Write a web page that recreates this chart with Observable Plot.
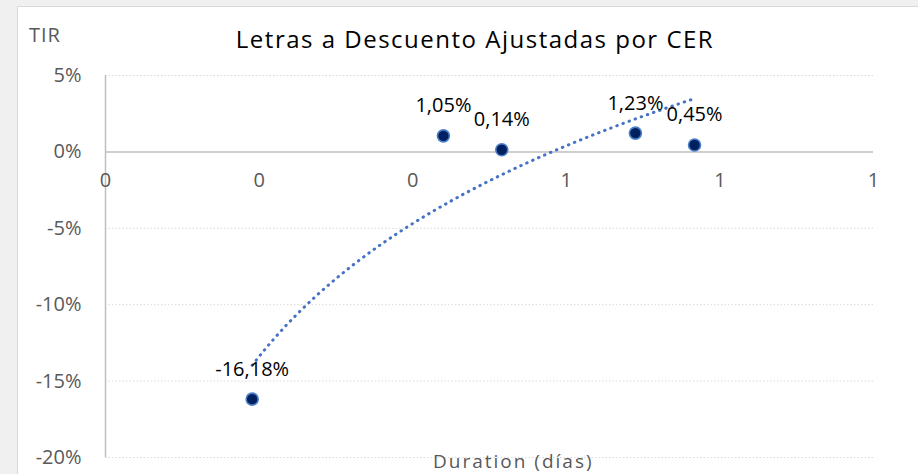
<!DOCTYPE html>
<html>
<head>
<meta charset="utf-8">
<script src="https://cdn.jsdelivr.net/npm/d3@7"></script>
<script src="https://cdn.jsdelivr.net/npm/@observablehq/plot@0.6"></script>
<style>
  html, body { margin: 0; padding: 0; }
  body { width: 918px; height: 474px; overflow: hidden; background: #f0f0f0; font-family: "Open Sans", sans-serif; }
  #wrap { position: relative; width: 918px; height: 474px; }
  #box { position: absolute; left: 17px; top: 6px; width: 910px; height: 480px; background: #fff; border: 1px solid #d9d9d9; box-sizing: border-box; }
  #chart { position: absolute; left: 0; top: 0; }
  .t { position: absolute; white-space: nowrap; line-height: 1; }
  #title { left: 475px; top: 27px; transform: translateX(-50%); font-size: 24px; letter-spacing: 1.5px; color: #000; }
  #ylab { left: 29px; top: 25px; font-size: 20px; letter-spacing: 1px; color: #595959; }
  #xlab { left: 433px; top: 452px; font-size: 19px; color: #595959; letter-spacing: 2px; }
</style>
</head>
<body>
<div id="wrap">
  <div id="box"></div>
  <div id="chart"></div>
  <div class="t" id="title">Letras a Descuento Ajustadas por CER</div>
  <div class="t" id="ylab">TIR</div>
  <div class="t" id="xlab">Duration (días)</div>
</div>
<script>
// Data
const duration = [0.191, 0.440, 0.516, 0.690, 0.767];   // x (axis shown rounded to 0 decimals)
const tir = [-16.18, 1.05, 0.14, 1.23, 0.45];             // % values
const xTicks = [0, 0.2, 0.4, 0.6, 0.8, 1.0];
const yTicks = [-20, -15, -10, -5, 0, 5];

const points = duration.map((d, i) => ({x: d, y: tir[i]}));

// Excel-style logarithmic trendline fitted to the points: y = a + b ln(x)
const lx = duration.map(Math.log);
const mx = d3.mean(lx), my = d3.mean(tir);
const b = d3.sum(lx, (v, i) => (v - mx) * (tir[i] - my)) / d3.sum(lx, v => (v - mx) ** 2);
const a = my - b * mx;
const xmin = d3.min(duration), xmax = d3.max(duration);
const trend = d3.range(0, 81).map(i => {
  const x = xmin + (xmax - xmin) * i / 80;
  return {x, y: a + b * Math.log(x)};
});

const fmtPct = v => v.toFixed(2).replace(".", ",") + "%";

const chart = Plot.plot({
  width: 918,
  height: 474,
  marginLeft: 105,
  marginRight: 45,
  marginTop: 75,
  marginBottom: 17,
  x: {domain: [0, 1], axis: null},
  y: {domain: [-20, 5], axis: null},
  style: {background: "transparent", fontFamily: "'Open Sans', sans-serif"},
  marks: [
    Plot.ruleY(yTicks.filter(v => v !== 0), {y: d => d, x1: 0, x2: 1, stroke: "#d9d9d9", strokeWidth: 1, strokeDasharray: "1.5,2"}),
    Plot.ruleY([0], {x1: 0, x2: 1, stroke: "#bfbfbf", strokeWidth: 1.5}),
    Plot.ruleX([0], {y1: -20, y2: 5, stroke: "#bfbfbf", strokeWidth: 1.5}),
    Plot.text(yTicks, {x: 0, y: d => d, text: d => d + "%", dx: -24, textAnchor: "end", fontSize: 20, fill: "#595959"}),
    Plot.text(xTicks, {x: d => d, y: 0, text: d => d3.format(".0f")(d), dy: 29, fontSize: 20, fill: "#595959"}),
    Plot.line(trend, {x: "x", y: "y", stroke: "#4472c4", strokeWidth: 3, strokeDasharray: "0.5,6", strokeLinecap: "round"}),
    Plot.dot(points, {x: "x", y: "y", r: 6, fill: "#002060", stroke: "#4a7ec6", strokeWidth: 1.6}),
    Plot.text(points, {x: "x", y: "y", text: d => fmtPct(d.y), dy: -30, fontSize: 20, fill: "#000"})
  ]
});
document.getElementById("chart").appendChild(chart);
</script>
</body>
</html>
